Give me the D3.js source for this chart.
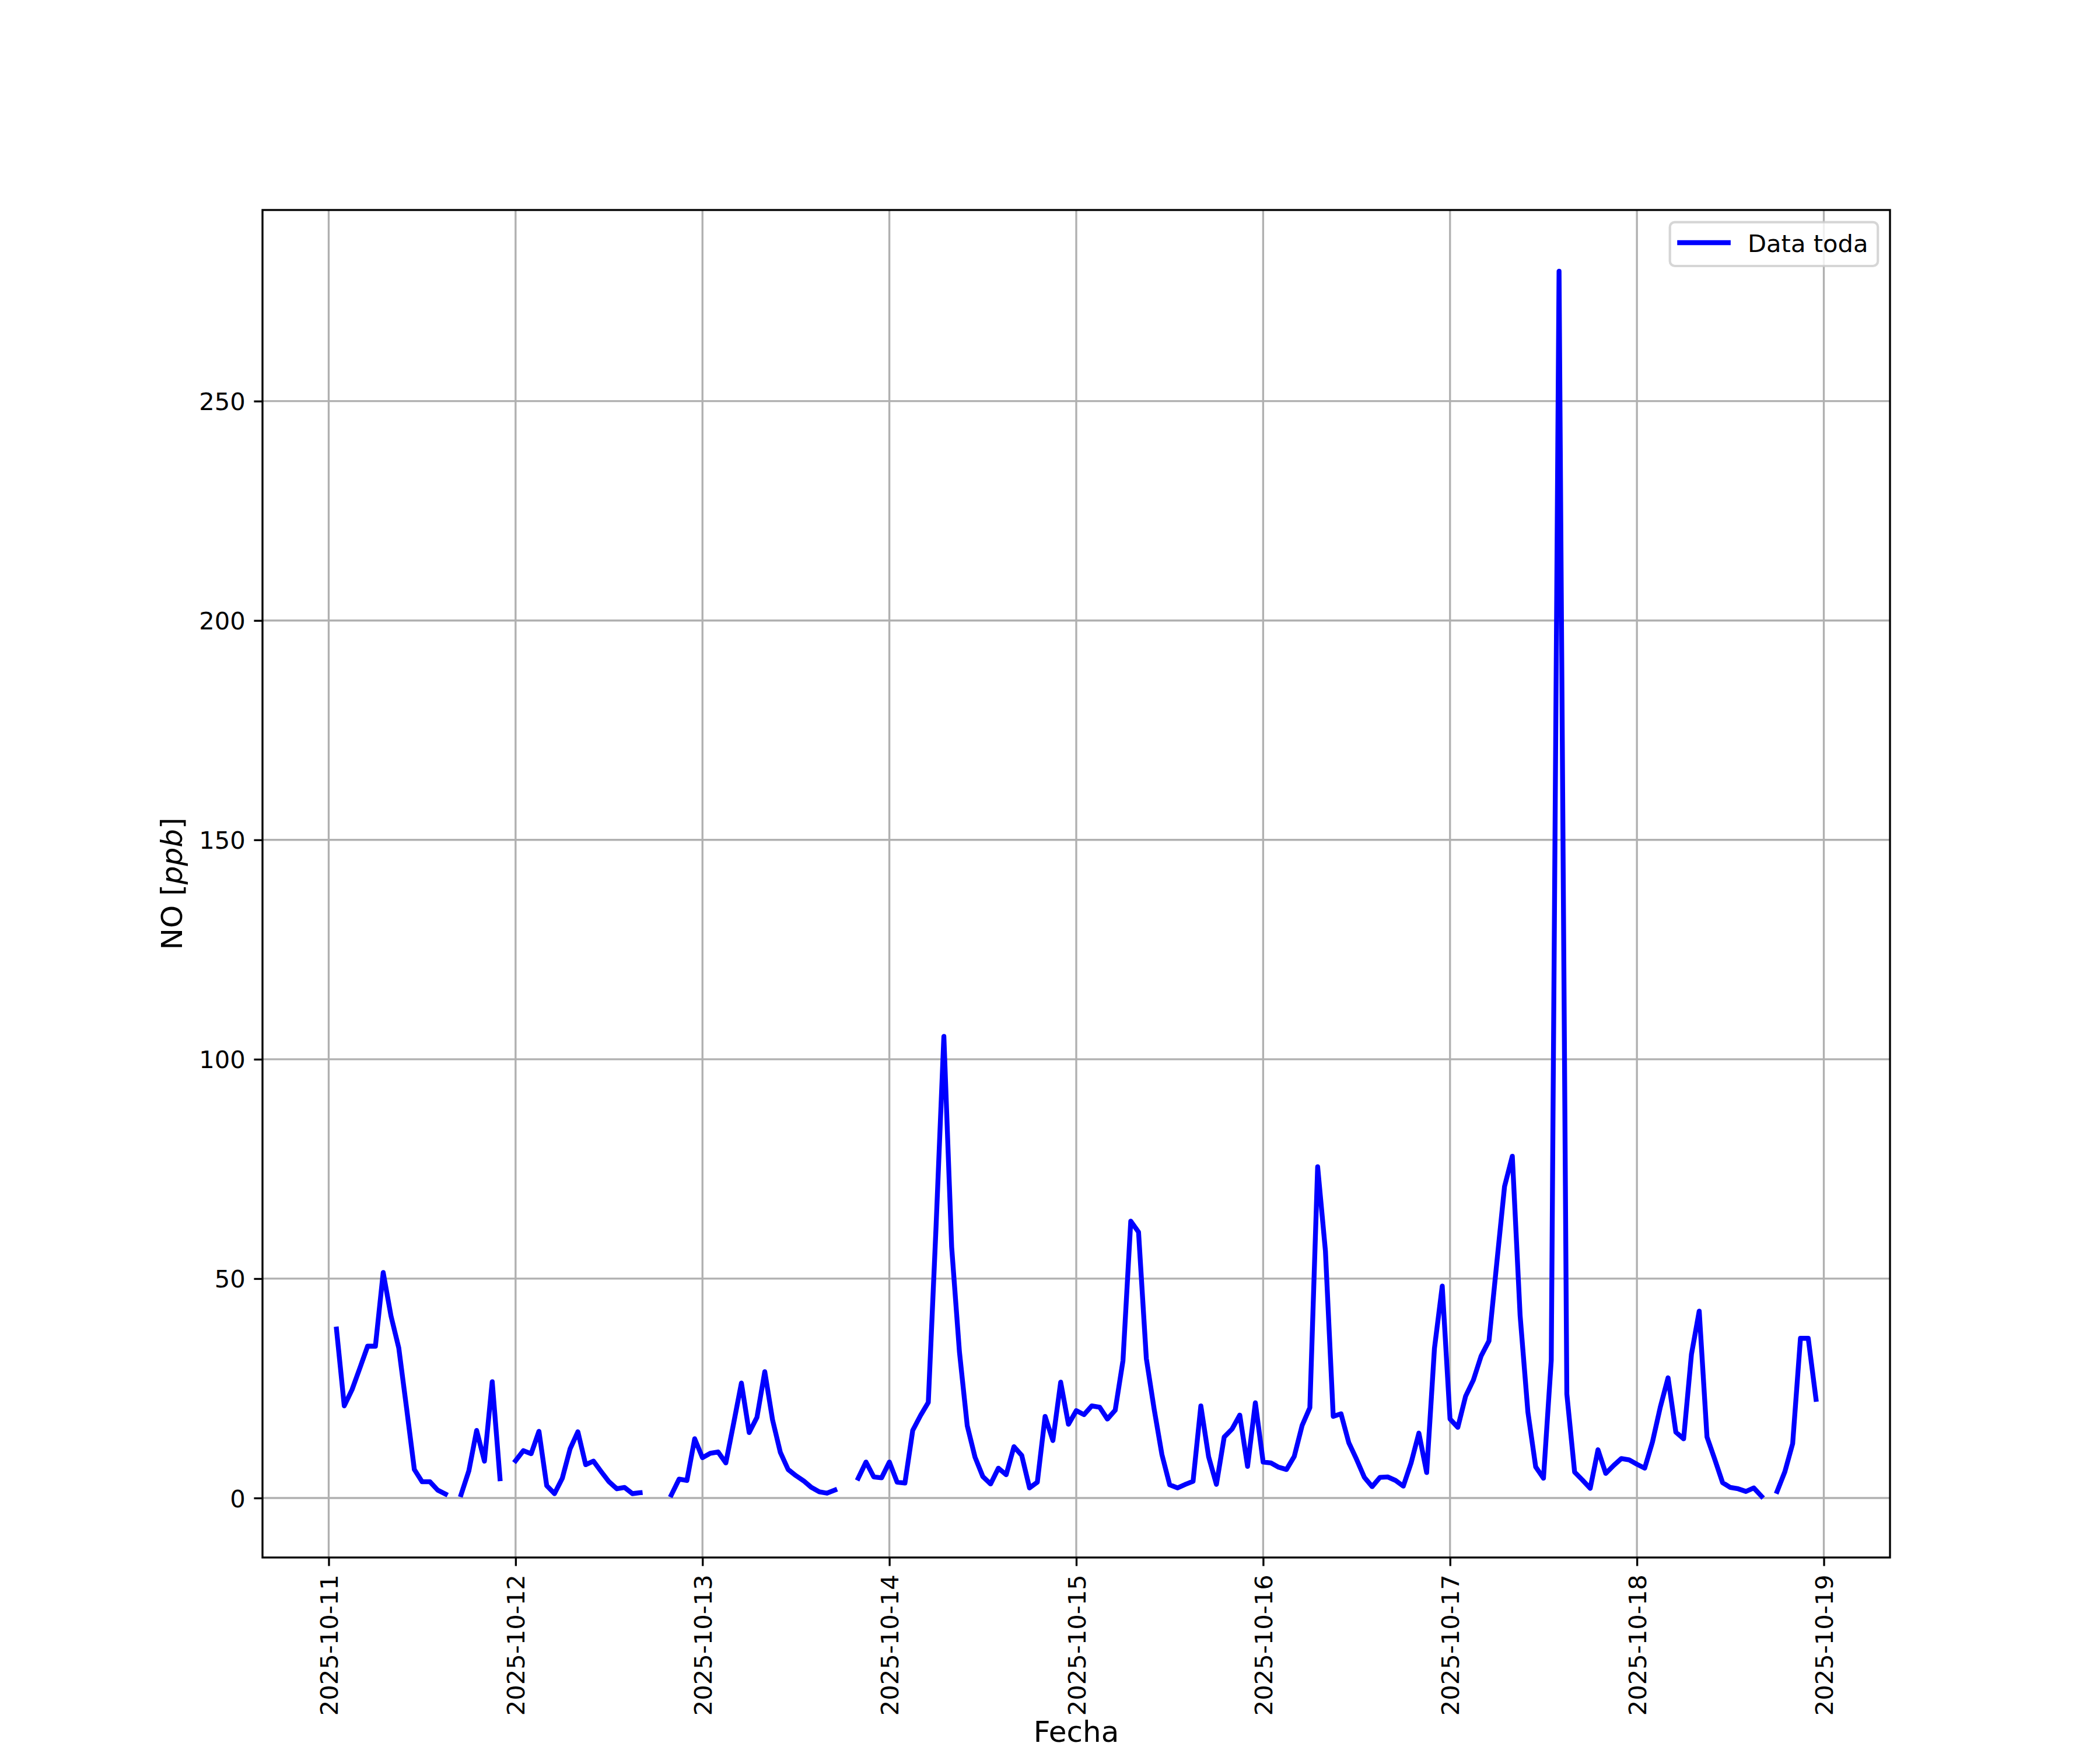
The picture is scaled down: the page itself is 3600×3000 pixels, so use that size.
<!DOCTYPE html>
<html>
<head>
<meta charset="utf-8">
<script src="https://cdn.jsdelivr.net/npm/d3@7"></script>
<style>
  html, body { margin: 0; padding: 0; background: #fff; }
  svg { display: block; }
  text { font-family: "DejaVu Sans", sans-serif; }
</style>
</head>
<body>
<script>
// ---- Data: hourly NO [ppb], index = hour of day (0..23), null = no data ----
const days = ["2025-10-11","2025-10-12","2025-10-13","2025-10-14","2025-10-15","2025-10-16","2025-10-17","2025-10-18"];
const no_1011 = [null,38.5,21.0,24.7,29.6,34.6,34.6,51.4,41.5,34.2,20.5,6.5,3.7,3.7,1.8,0.9,null,0.75,6.2,15.4,8.4,26.5,4.4,null];
const no_1012 = [8.5,10.8,10.1,15.2,2.8,1.0,4.5,11.2,15.1,7.6,8.4,6.0,3.7,2.1,2.4,1.0,1.2,null,null,null,0.7,4.3,4.0,13.5];
const no_1013 = [9.2,10.2,10.5,8.0,17.0,26.2,14.9,18.4,28.8,17.8,10.4,6.5,5.1,3.9,2.4,1.4,1.1,1.8,null,null,4.5,8.2,4.8,4.6];
const no_1014 = [8.2,3.6,3.4,15.4,18.8,21.8,62.0,105.2,57.2,33.3,16.5,9.3,4.9,3.2,6.8,5.3,11.7,9.7,2.3,3.6,18.6,13.1,26.4,16.8];
const no_1015 = [19.9,19.0,21.0,20.7,18.0,20.0,31.3,63.1,60.6,31.8,20.3,9.9,3.0,2.3,3.1,3.8,21.0,9.4,3.1,13.9,15.7,18.9,7.2,21.7];
const no_1016 = [8.2,8.0,7.0,6.5,9.5,16.5,20.6,75.5,56.3,18.6,19.2,12.6,8.8,4.7,2.6,4.7,4.8,4.0,2.7,8.0,14.8,5.8,34.1,48.3];
const no_1017 = [18.0,16.1,23.2,26.9,32.4,35.8,53.5,71.0,77.9,41.6,19.6,7.1,4.5,31.4,279.6,23.7,5.9,4.1,2.2,11.0,5.6,7.4,9.0,8.7];
const no_1018 = [7.7,6.8,12.8,20.7,27.4,15.0,13.5,32.7,42.6,13.9,8.8,3.5,2.4,2.1,1.5,2.3,0.4,null,1.5,6.0,12.4,36.4,36.4,22.5];
const dailySeries = [no_1011,no_1012,no_1013,no_1014,no_1015,no_1016,no_1017,no_1018];

const xTickLabels = ["2025-10-11","2025-10-12","2025-10-13","2025-10-14","2025-10-15","2025-10-16","2025-10-17","2025-10-18","2025-10-19"];
const yTicks = [0,50,100,150,200,250];
const seriesName = "Data toda";
const xLabel = "Fecha";

// ---- Build table ----
const parseDay = d3.utcParse("%Y-%m-%d");
const data = [];
days.forEach((day, i) => {
  const t0 = parseDay(day);
  dailySeries[i].forEach((v, h) => {
    data.push({ t: d3.utcHour.offset(t0, h), v: v });
  });
});
const defined = data.filter(d => d.v != null);

// ---- Layout (matplotlib-like, 300 dpi) ----
const W = 3600, H = 3000;
const L = 450, R = 3240, T = 360, B = 2670;
const pt = 300 / 72;
const tickLen = 3.5 * pt, tickPad = 3.5 * pt, thin = 0.8 * pt;
const fs = 10 * pt, fsLabel = 12 * pt;

const tExt = d3.extent(defined, d => d.t);
const tSpan = tExt[1] - tExt[0];
const x = d3.scaleUtc()
  .domain([new Date(+tExt[0] - 0.05 * tSpan), new Date(+tExt[1] + 0.05 * tSpan)])
  .range([L, R]);
const vExt = d3.extent(defined, d => d.v);
const vSpan = vExt[1] - vExt[0];
const y = d3.scaleLinear()
  .domain([vExt[0] - 0.05 * vSpan, vExt[1] + 0.05 * vSpan])
  .range([B, T]);

const xTicks = xTickLabels.map(parseDay);

const svg = d3.select("body").append("svg")
  .attr("width", W).attr("height", H)
  .attr("viewBox", `0 0 ${W} ${H}`);
svg.append("rect").attr("width", W).attr("height", H).attr("fill", "#fff");

// grid
const grid = svg.append("g").attr("stroke", "#b0b0b0").attr("stroke-width", thin);
grid.selectAll("line.gx").data(xTicks).join("line")
  .attr("x1", d => x(d)).attr("x2", d => x(d)).attr("y1", T).attr("y2", B);
grid.selectAll("line.gy").data(yTicks).join("line")
  .attr("y1", d => y(d)).attr("y2", d => y(d)).attr("x1", L).attr("x2", R);

// clip for the line
svg.append("clipPath").attr("id", "clip").append("rect")
  .attr("x", L).attr("y", T).attr("width", R - L).attr("height", B - T);

const line = d3.line()
  .defined(d => d.v != null)
  .x(d => x(d.t)).y(d => y(d.v));
svg.append("path")
  .datum(data)
  .attr("clip-path", "url(#clip)")
  .attr("d", line)
  .attr("fill", "none")
  .attr("stroke", "#0000ff")
  .attr("stroke-width", 2 * pt)
  .attr("stroke-linejoin", "round")
  .attr("stroke-linecap", "square");

// axes
const xAxis = d3.axisBottom(x).tickValues(xTicks)
  .tickFormat((d, i) => xTickLabels[i]).tickSize(tickLen).tickPadding(tickPad);
const gx = svg.append("g").attr("transform", `translate(0,${B})`).call(xAxis);
gx.select(".domain").remove();
gx.selectAll(".tick line").attr("stroke", "#000").attr("stroke-width", thin);
gx.selectAll(".tick text")
  .attr("font-size", fs).attr("fill", "#000")
  .attr("transform", `translate(0,${tickLen + tickPad}) rotate(-90)`)
  .attr("x", 0).attr("y", 0).attr("dy", "0.36em")
  .attr("text-anchor", "end");

const yAxis = d3.axisLeft(y).tickValues(yTicks)
  .tickFormat(d3.format("d")).tickSize(tickLen).tickPadding(tickPad);
const gy = svg.append("g").attr("transform", `translate(${L},0)`).call(yAxis);
gy.select(".domain").remove();
gy.selectAll(".tick line").attr("stroke", "#000").attr("stroke-width", thin);
gy.selectAll(".tick text").attr("font-size", fs).attr("fill", "#000").attr("dy", "0.36em");

// spines
svg.append("rect")
  .attr("x", L).attr("y", T).attr("width", R - L).attr("height", B - T)
  .attr("fill", "none").attr("stroke", "#000").attr("stroke-width", thin);

// axis labels
svg.append("text")
  .attr("x", (L + R) / 2).attr("y", 2986)
  .attr("text-anchor", "middle").attr("font-size", fsLabel).attr("fill", "#000")
  .text(xLabel);

const yl = svg.append("text")
  .attr("transform", `translate(312,${(T + B) / 2}) rotate(-90)`)
  .attr("text-anchor", "middle").attr("font-size", fsLabel).attr("fill", "#000");
yl.append("tspan").text("NO [");
yl.append("tspan").attr("font-style", "italic").text("ppb");
yl.append("tspan").text("]");

// legend
const lg = svg.append("g");
lg.append("rect")
  .attr("x", 2862.7).attr("y", 380.8).attr("width", 3219.2 - 2862.7).attr("height", 456 - 380.8)
  .attr("rx", 0.2 * fs).attr("ry", 0.2 * fs)
  .attr("fill", "#fff").attr("fill-opacity", 0.8)
  .attr("stroke", "#cccccc").attr("stroke-opacity", 0.8).attr("stroke-width", 1 * pt);
lg.append("line")
  .attr("x1", 2879.4).attr("x2", 2962.7).attr("y1", 416).attr("y2", 416)
  .attr("stroke", "#0000ff").attr("stroke-width", 2 * pt).attr("stroke-linecap", "square");
lg.append("text")
  .attr("x", 2996).attr("y", 431.5)
  .attr("font-size", fs).attr("fill", "#000")
  .text(seriesName);
</script>
</body>
</html>
